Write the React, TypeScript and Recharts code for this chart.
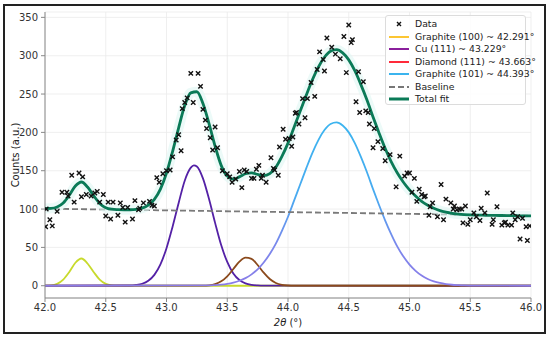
import React from 'react';
import { ComposedChart, Line, Scatter, XAxis, YAxis, CartesianGrid } from 'recharts';

// measured counts (x markers)
const dataX = [
  42.005, 42.01, 42.04, 42.06, 42.1, 42.14, 42.18, 42.19, 42.22, 42.24, 42.28, 42.3, 42.31, 42.34, 42.38,
  42.41, 42.43, 42.45, 42.48, 42.5, 42.52, 42.54, 42.56, 42.6, 42.62, 42.64, 42.66, 42.68, 42.72, 42.74,
  42.77, 42.78, 42.81, 42.86, 42.88, 42.9, 42.92, 42.94, 42.97, 43.0, 43.03, 43.05, 43.08, 43.1, 43.12,
  43.13, 43.15, 43.17, 43.2, 43.22, 43.26, 43.28, 43.3, 43.32, 43.33, 43.36, 43.38, 43.4, 43.42, 43.46,
  43.5, 43.52, 43.54, 43.57, 43.6, 43.62, 43.64, 43.66, 43.7, 43.72, 43.74, 43.76, 43.78, 43.79, 43.82,
  43.86, 43.88, 43.89, 43.92, 43.93, 43.96, 43.98, 44.01, 44.03, 44.04, 44.06, 44.07, 44.09, 44.12, 44.14,
  44.16, 44.19, 44.22, 44.24, 44.26, 44.29, 44.3, 44.32, 44.36, 44.39, 44.43, 44.46, 44.48, 44.5, 44.52,
  44.53, 44.56, 44.58, 44.59, 44.62, 44.64, 44.66, 44.67, 44.7, 44.71, 44.74, 44.78, 44.8, 44.84, 44.89,
  44.92, 44.96, 44.98, 45.0, 45.02, 45.04, 45.06, 45.08, 45.1, 45.12, 45.13, 45.16, 45.17, 45.19, 45.23,
  45.26, 45.28, 45.3, 45.34, 45.36, 45.37, 45.39, 45.41, 45.43, 45.44, 45.46, 45.48, 45.5, 45.53, 45.55,
  45.58, 45.59, 45.62, 45.64, 45.68, 45.69, 45.72, 45.76, 45.78, 45.79, 45.81, 45.84, 45.85, 45.87, 45.89,
  45.91, 45.93, 45.96, 45.97, 45.99,
];
const dataY = [
  77, 100, 86, 78, 97, 122, 122, 117, 144, 109, 147, 116, 142, 119, 117,
  121, 123, 109, 119, 91, 109, 87, 109, 92, 108, 102, 83, 102, 87, 111,
  99, 101, 108, 110, 105, 104, 141, 135, 146, 150, 151, 168, 190, 197, 176,
  231, 239, 245, 277, 239, 277, 260, 230, 216, 205, 193, 177, 207, 180, 150,
  146, 142, 135, 139, 149, 128, 151, 149, 140, 140, 152, 157, 140, 144, 135,
  167, 153, 151, 144, 181, 204, 191, 192, 182, 194, 225, 226, 211, 244, 219,
  244, 265, 247, 282, 305, 295, 280, 323, 311, 302, 296, 325, 278, 340, 317,
  321, 240, 279, 226, 266, 228, 226, 211, 180, 205, 188, 179, 163, 171, 129,
  169, 143, 147, 147, 122, 140, 110, 126, 119, 116, 117, 92, 103, 108, 90,
  132, 86, 113, 108, 100, 104, 99, 100, 100, 82, 104, 80, 86, 95, 90,
  85, 101, 95, 121, 80, 86, 103, 79, 82, 83, 79, 79, 95, 86, 90,
  61, 88, 77, 59, 78,
];

// fitted components
const g100X = [42.0, 42.05, 42.1, 42.15, 42.2, 42.25, 42.3, 42.35, 42.4, 42.45, 42.5, 42.55, 42.6, 42.65, 46.0];
const g100Y = [0.2, 0.5, 2.5, 8, 18, 30, 35.5, 29, 18, 8, 2.5, 0.6, 0.1, 0, 0];

const cuX = [42.0, 42.7, 42.75, 42.8, 42.85, 42.9, 42.95, 43.0, 43.05, 43.1, 43.15, 43.2, 43.225, 43.25,
  43.3, 43.35, 43.4, 43.45, 43.5, 43.55, 43.6, 43.65, 43.7, 43.75, 43.8, 46.0];
const cuY = [0, 0.3, 1, 2.6, 6.5, 14.2, 27.8, 49, 77, 108, 137, 154, 157, 155.5,
  140, 113, 82, 53, 31, 16, 7.4, 3, 1.1, 0.4, 0.1, 0];

const diaX = [42.0, 43.3, 43.35, 43.4, 43.45, 43.5, 43.55, 43.6, 43.65, 43.7, 43.75, 43.8, 43.85, 43.9,
  43.95, 44.0, 44.05, 46.0];
const diaY = [0, 0.16, 0.6, 2.1, 5.7, 12.3, 21.8, 31.4, 36.7, 35, 27, 17, 8.7, 3.6, 1.2, 0.35, 0.1, 0];

const g101X = [42.0, 43.35, 43.4, 43.45, 43.5, 43.55, 43.6, 43.65, 43.7, 43.75, 43.8, 43.85, 43.9, 43.95,
  44.0, 44.05, 44.1, 44.15, 44.2, 44.25, 44.3, 44.35, 44.4, 44.45, 44.5, 44.55, 44.6, 44.65, 44.7, 44.75,
  44.8, 44.85, 44.9, 44.95, 45.0, 45.05, 45.1, 45.15, 45.2, 45.25, 45.3, 45.35, 45.4, 45.45, 45.5, 46.0];
const g101Y = [0, 0.5, 0.9, 1.5, 2.5, 4.1, 6.5, 9.9, 14.8, 21.4, 30.3, 41.4, 55, 71.6,
  90, 111, 132, 153, 173, 190, 203, 211, 213, 209, 200, 186, 168, 148, 126, 105,
  85, 67, 51, 38, 27.5, 19.4, 13.2, 8.8, 5.7, 3.6, 2.2, 1.3, 0.8, 0.4, 0.2, 0];

const baseX = [42.0, 46.0];
const baseY = [100.5, 91.5];

const totalX = [
  42.0, 42.05, 42.1, 42.15, 42.2, 42.25, 42.3, 42.35, 42.4, 42.45,
  42.5, 42.55, 42.6, 42.65, 42.7, 42.75, 42.8, 42.85, 42.9, 42.95,
  43.0, 43.05, 43.1, 43.15, 43.2, 43.25, 43.3, 43.35, 43.4, 43.45,
  43.5, 43.55, 43.6, 43.65, 43.7, 43.75, 43.8, 43.85, 43.9, 43.95,
  44.0, 44.05, 44.1, 44.15, 44.2, 44.25, 44.3, 44.35, 44.4, 44.45,
  44.5, 44.55, 44.6, 44.65, 44.7, 44.75, 44.8, 44.85, 44.9, 44.95,
  45.0, 45.05, 45.1, 45.15, 45.2, 45.25, 45.3, 45.35, 45.4, 45.45,
  45.5, 45.55, 45.6, 45.65, 45.7, 45.75, 45.8, 45.85, 45.9, 45.95, 46.0,
];
const totalY = [
  100.7, 100.9, 102.8, 108, 118, 130, 135.3, 128.7, 117.5, 107.4,
  101.8, 99.8, 99.2, 99.0, 99.1, 99.7, 101.2, 105, 112.6, 126,
  147, 175, 206, 235, 251.6, 253, 237.6, 211.4, 182, 157,
  143, 139, 142, 146, 147.3, 145.1, 143.6, 146.2, 154.6, 168.7,
  186, 206.7, 227.5, 248.4, 268.3, 285.2, 298, 305.9, 307.8, 303.7,
  294.6, 280.4, 262.3, 242.2, 220.1, 199, 179, 161.5, 147, 135,
  125, 117, 110, 105, 101, 98, 96, 94.5, 93.5, 92.8,
  92.4, 92.1, 92.0, 91.8, 91.7, 91.6, 91.5, 91.4, 91.2, 91.1, 91.0,
];

const xTicks = [42.0, 42.5, 43.0, 43.5, 44.0, 44.5, 45.0, 45.5, 46.0];
const yTicks = [0, 50, 100, 150, 200, 250, 300, 350];

const pairs = (xs: number[], ys: number[]) => xs.map((x, i) => ({ x, y: ys[i] }));

const FONT = '"DejaVu Sans", sans-serif';

const CrossMark = (props: any) => {
  const { cx, cy } = props;
  if (cx == null || cy == null) return null;
  const s = 2.2;
  return (
    <path
      d={`M${cx - s},${cy - s}L${cx + s},${cy + s}M${cx - s},${cy + s}L${cx + s},${cy - s}`}
      stroke="#111"
      strokeWidth={1.4}
    />
  );
};

const legendItems = [
  { label: 'Data', kind: 'x', color: '#111' },
  { label: 'Graphite (100) ~ 42.291°', kind: 'line', color: '#fcc633' },
  { label: 'Cu (111) ~ 43.229°', kind: 'line', color: '#8a1f9c' },
  { label: 'Diamond (111) ~ 43.663°', kind: 'line', color: '#ff2a3a' },
  { label: 'Graphite (101) ~ 44.393°', kind: 'line', color: '#3bb4ee' },
  { label: 'Baseline', kind: 'dash', color: '#777' },
  { label: 'Total fit', kind: 'thick', color: '#0a7a57' },
];

export default function App() {
  return (
    <div style={{ position: 'absolute', left: 0, top: 0, width: 550, height: 338, background: '#fff', fontFamily: FONT }}>
      <div
        style={{
          position: 'absolute', left: 3, top: 4, width: 543, height: 330,
          border: '2px solid #222', boxSizing: 'border-box',
        }}
      />
      <div style={{ position: 'absolute', left: 0, top: 0 }}>
        <ComposedChart width={550} height={338} data={pairs(totalX, totalY)} margin={{ top: 12, right: 19, bottom: 10, left: 5 }}>
          <defs>
            <linearGradient id="g101Stroke" x1="0" y1="0" x2="0" y2="1">
              <stop offset="0%" stopColor="#3cb4ef" />
              <stop offset="45%" stopColor="#48aaf0" />
              <stop offset="75%" stopColor="#7a88ec" />
              <stop offset="100%" stopColor="#8a7ce8" />
            </linearGradient>
          </defs>
          <CartesianGrid stroke="#ebebeb" strokeWidth={0.8} />
          <XAxis
            type="number"
            dataKey="x"
            domain={[42, 46]}
            ticks={xTicks}
            allowDataOverflow
            tickFormatter={(v: number) => v.toFixed(1)}
            height={30}
            tickSize={4}
            tickMargin={2}
            stroke="#888"
            tick={{ fill: '#333', fontSize: 10, fontFamily: FONT }}
          />
          <YAxis
            type="number"
            domain={[-16, 357]}
            ticks={yTicks}
            allowDataOverflow
            width={40}
            tickSize={4}
            tickMargin={3}
            stroke="#888"
            tick={{ fill: '#333', fontSize: 10, fontFamily: FONT }}
          />
          <Line data={pairs(g100X, g100Y)} dataKey="y" type="monotone" stroke="#c8da2c" strokeWidth={1.8} dot={false} activeDot={false} isAnimationActive={false} />
          <Line data={pairs(cuX, cuY)} dataKey="y" type="monotone" stroke="#5421a6" strokeWidth={1.8} dot={false} activeDot={false} isAnimationActive={false} />
          <Line data={pairs(diaX, diaY)} dataKey="y" type="monotone" stroke="#8b4a1c" strokeWidth={1.8} dot={false} activeDot={false} isAnimationActive={false} />
          <Line data={pairs(g101X, g101Y)} dataKey="y" type="monotone" stroke="url(#g101Stroke)" strokeWidth={1.8} dot={false} activeDot={false} isAnimationActive={false} />
          <Line data={pairs(baseX, baseY)} dataKey="y" type="linear" stroke="#7a7a7a" strokeWidth={1.8} strokeDasharray="6 3" dot={false} activeDot={false} isAnimationActive={false} />
          <Line dataKey="y" type="monotone" stroke="#dff7f4" strokeOpacity={0.6} strokeWidth={10} dot={false} activeDot={false} isAnimationActive={false} />
          <Line dataKey="y" type="monotone" stroke="#0a7a57" strokeWidth={2.8} dot={false} activeDot={false} isAnimationActive={false} />
          <Scatter data={pairs(dataX, dataY)} dataKey="y" shape={CrossMark} isAnimationActive={false} />
        </ComposedChart>
      </div>

      {/* axis titles */}
      <div
        style={{
          position: 'absolute', left: 15, top: 155, fontSize: 10, color: '#222',
          transform: 'translate(-50%, -50%) rotate(-90deg)', whiteSpace: 'nowrap',
        }}
      >
        Counts (a.u.)
      </div>
      <div style={{ position: 'absolute', left: 288, top: 322, fontSize: 10, color: '#222', transform: 'translate(-50%, -50%)', whiteSpace: 'nowrap' }}>
        <span style={{ fontStyle: 'italic' }}>2θ</span> (°)
      </div>

      {/* legend */}
      <div
        style={{
          position: 'absolute', left: 385, top: 15, width: 141, height: 90,
          border: '1px solid #dcdcdc', borderRadius: 3, background: 'rgba(255,255,255,0.85)', boxSizing: 'border-box',
        }}
      >
        {legendItems.map((it, i) => (
          <div key={it.label} style={{ position: 'absolute', left: 0, top: 2 + i * 12.5, height: 12.5, width: 140 }}>
            <svg width={22} height={12} style={{ position: 'absolute', left: 2, top: 0 }}>
              {it.kind === 'x' && (
                <path d="M9,4L13,8M9,8L13,4" stroke="#111" strokeWidth={1.4} />
              )}
              {it.kind === 'line' && <line x1={1} y1={6} x2={21} y2={6} stroke={it.color} strokeWidth={2} />}
              {it.kind === 'dash' && <line x1={1} y1={6} x2={21} y2={6} stroke={it.color} strokeWidth={1.8} strokeDasharray="6 3" />}
              {it.kind === 'thick' && <line x1={1} y1={6} x2={21} y2={6} stroke={it.color} strokeWidth={3} />}
            </svg>
            <span style={{ position: 'absolute', left: 29, top: 0, fontSize: 9.3, lineHeight: '12px', color: '#222', whiteSpace: 'nowrap' }}>
              {it.label}
            </span>
          </div>
        ))}
      </div>
    </div>
  );
}
